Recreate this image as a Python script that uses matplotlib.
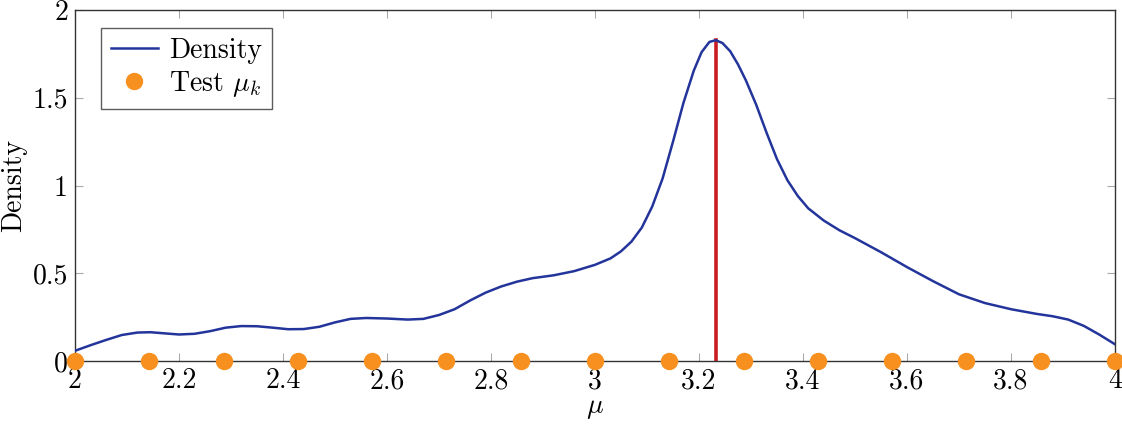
import matplotlib
matplotlib.use("Agg")
import matplotlib.pyplot as plt

# density curve
mu = [2.00, 2.03, 2.06, 2.09, 2.12, 2.145, 2.17, 2.20, 2.23, 2.26, 2.29, 2.32,
      2.35, 2.38, 2.41, 2.44, 2.47, 2.50, 2.53, 2.56, 2.60, 2.64, 2.67, 2.70,
      2.73, 2.76, 2.79, 2.82, 2.85, 2.88, 2.92, 2.96, 3.00, 3.03, 3.05, 3.07,
      3.09, 3.11, 3.13, 3.15, 3.17, 3.19, 3.205, 3.22, 3.232, 3.245, 3.26, 3.275,
      3.29, 3.31, 3.33, 3.35, 3.37, 3.39, 3.41, 3.44, 3.47, 3.50, 3.55, 3.60,
      3.65, 3.70, 3.75, 3.80, 3.85, 3.88, 3.91, 3.94, 3.97, 4.00]
density = [0.058, 0.09, 0.12, 0.148, 0.162, 0.164, 0.158, 0.151, 0.155, 0.170, 0.190, 0.199,
           0.198, 0.190, 0.181, 0.182, 0.195, 0.220, 0.240, 0.245, 0.242, 0.236, 0.240, 0.262,
           0.295, 0.345, 0.390, 0.425, 0.452, 0.472, 0.488, 0.512, 0.548, 0.585, 0.625, 0.68,
           0.76, 0.88, 1.04, 1.25, 1.47, 1.655, 1.76, 1.818, 1.828, 1.812, 1.765, 1.69,
           1.60, 1.46, 1.30, 1.15, 1.03, 0.94, 0.87, 0.80, 0.745, 0.70, 0.62, 0.535,
           0.455, 0.38, 0.33, 0.295, 0.268, 0.255, 0.236, 0.20, 0.15, 0.095]

test_mu = [2.0, 2.143, 2.286, 2.429, 2.571, 2.714, 2.857, 3.0,
           3.143, 3.286, 3.429, 3.571, 3.714, 3.857, 4.0]
peak_mu = 3.232
peak_density = 1.828

xticks = [2.0, 2.2, 2.4, 2.6, 2.8, 3.0, 3.2, 3.4, 3.6, 3.8, 4.0]
xtick_labels = ["2", "2.2", "2.4", "2.6", "2.8", "3", "3.2", "3.4", "3.6", "3.8", "4"]
yticks = [0.0, 0.5, 1.0, 1.5, 2.0]
ytick_labels = ["0", "0.5", "1", "1.5", "2"]

plt.rcParams["font.family"] = ["cmr10", "DejaVu Serif"]
plt.rcParams["mathtext.fontset"] = "cm"
plt.rcParams["axes.unicode_minus"] = False

BLUE = "#23349b"
RED = "#c91d22"
ORANGE = "#f7901e"
FS = 20

fig = plt.figure(figsize=(11.22, 4.26), dpi=100)
ax = fig.add_axes([0.0668, 0.1526, 0.927, 0.8239])

ax.plot(mu, density, color=BLUE, linewidth=1.8, label="Density", zorder=3,
        solid_joinstyle="round")
ax.plot([peak_mu, peak_mu], [0, peak_density], color=RED, linewidth=2.6, zorder=2)
ax.plot(test_mu, [0] * len(test_mu), linestyle="none", marker="o", markersize=11.5,
        color=ORANGE, label=r"Test $\mu_k$", clip_on=False, zorder=4)

ax.set_xlim(2, 4)
ax.set_ylim(0, 2)
ax.set_xticks(xticks)
ax.set_xticklabels(xtick_labels)
ax.set_yticks(yticks)
ax.set_yticklabels(ytick_labels)
ax.tick_params(direction="in", length=6, width=0.8, color="#aaaaaa",
               top=True, right=True, labelsize=FS, pad=5)
for spine in ax.spines.values():
    spine.set_color("#333333")
    spine.set_linewidth(1.0)

ax.set_xlabel(r"$\mu$", fontsize=FS, labelpad=0)
ax.set_ylabel("Density", fontsize=FS, labelpad=4)

leg = ax.legend(loc="upper left", bbox_to_anchor=(0.025, 0.95), fontsize=FS,
                frameon=True, fancybox=False, handlelength=1.7, borderpad=0.35,
                labelspacing=0.2, handletextpad=0.4, borderaxespad=0)
leg.get_frame().set_edgecolor("#333333")
leg.get_frame().set_linewidth(1.0)

fig.savefig("out.png", dpi=100)
